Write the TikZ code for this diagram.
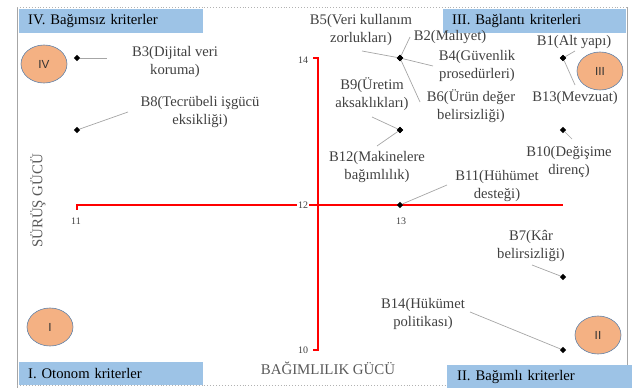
\documentclass[tikz,border=0pt]{standalone}
\usepackage{fontspec}
\setmainfont{Liberation Serif}
\newfontfamily\markfont{Liberation Sans}
\usetikzlibrary{shapes.geometric,positioning}
\definecolor{quadblue}{HTML}{9DC3E6}
\definecolor{quadorange}{HTML}{F4B183}
\definecolor{quadedge}{HTML}{5B7FA8}
\definecolor{labelgray}{HTML}{404040}
\definecolor{titlegray}{HTML}{595959}
\definecolor{leadgray}{HTML}{A6A6A6}

\begin{document}
\begin{tikzpicture}[x=0.03cm, y=-0.03cm,
    crit/.style={diamond, fill=black, inner sep=0pt, minimum size=5.5pt},
    critlbl/.style={align=center, text=labelgray, inner sep=0pt, font=\fontsize{12.5}{15.3}\selectfont},
    leader/.style={draw=leadgray, line width=0.6pt},
    axisline/.style={draw=red, line width=1.4pt},
    ticklbl/.style={text=labelgray, inner sep=0pt, font=\fontsize{8.5}{10}\selectfont},
    quadbox/.style={fill=quadblue, anchor=north west, minimum height=0.72cm, inner xsep=0.27cm, inner ysep=0pt, align=left, font=\fontsize{12.5}{14}\selectfont},
    quadmark/.style={ellipse, fill=quadorange, draw=quadedge, line width=0.5pt, minimum width=1.38cm, minimum height=1.14cm, inner sep=0pt, text=black!80, font=\markfont\fontsize{10}{12}\selectfont},
    axistitle/.style={text=titlegray, inner sep=0pt, font=\fontsize{12.7}{14}\selectfont}
]
\useasboundingbox (0,0) rectangle (632,388);
% Frame
\draw[gray!70, line width=0.5pt] (17,7) -- (17,388);
\draw[gray!70, line width=0.5pt] (627,7) -- (627,366);
\draw[gray!60, dotted, line width=0.5pt] (17,7) -- (627,7);
\draw[gray!60, dotted, line width=0.5pt] (17,385) -- (447,385);
% Quadrant boxes
\node[quadbox, text width=4.98cm] (q4) at (19,9) {IV. Bağımsız kriterler};
\node[quadbox, text width=4.95cm] (q3) at (443,9) {III. Bağlantı kriterleri};
\node[quadbox, text width=4.98cm, minimum height=0.69cm] (q1) at (19,362) {I. Otonom kriterler};
\node[quadbox, text width=4.95cm, minimum height=0.69cm, inner xsep=0.3cm] (q2) at (447,365) {II. Bağımlı kriterler};
% Quadrant marks
\node[quadmark] (m4) at (44,64) {IV};
\node[quadmark] (m3) at (600,71) {III};
\node[quadmark] (m1) at (50,327) {I};
\node[quadmark] (m2) at (598,335) {II};
% Axes
\coordinate (xl) at (77,205);
\coordinate (xr) at (563,205);
\coordinate (yt) at (318,58);
\coordinate (yb) at (318,350);
\draw[axisline] ([yshift=-4]xl) -- (xl) -- (xr);
\draw[axisline] ([xshift=-4]yt) -- (yt) -- (yb) -- ([xshift=-4]yb);
\node[ticklbl] (t14) at (303,60) {14};
\node[ticklbl, fill=white, inner sep=1pt] (t12) at (303,205) {12};
\node[ticklbl] (t10) at (303,350) {10};
\node[ticklbl] (t11) at (76,221) {11};
\node[ticklbl] (t13) at (401,221) {13};
\node[axistitle] (xtitle) at (328,368) {BAĞIMLILIK GÜCÜ};
\node[axistitle, rotate=90] (ytitle) at (38,201) {SÜRÜŞ GÜCÜ};
% Criteria points
\foreach \n/\x/\y in {b3/77/58, b8/77/130, b5/400/58, b2/400/58, b4/400/58, b6/400/58,
    b9/400/130, b12/400/130, b11/400/205, b1/563/58, b13/563/58, b10/563/130,
    b7/563/277, b14/563/350} {
    \node[crit] (\n) at (\x,\y) {};
}
% Criteria labels
\node[critlbl] (b3lbl) at (175,62) {B3(Dijital veri\\koruma)};
\node[critlbl] (b8lbl) at (200,112) {B8(Tecrübeli işgücü\\eksikliği)};
\node[critlbl] (b5lbl) at (361,30) {B5(Veri kullanım\\zorlukları)};
\node[critlbl] (b2lbl) at (450,37) {B2(Malıyet)};
\node[critlbl] (b4lbl) at (477,66) {B4(Güvenlik\\prosedürleri)};
\node[critlbl] (b6lbl) at (471,106) {B6(Ürün değer\\belirsizliği)};
\node[critlbl] (b9lbl) at (372,94) {B9(Üretim\\aksaklıkları)};
\node[critlbl] (b12lbl) at (377,167) {B12(Makinelere\\bağımlılık)};
\node[critlbl] (b11lbl) at (497,186) {B11(Hühümet\\desteği)};
\node[critlbl] (b1lbl) at (574,42) {B1(Alt yapı)};
\node[critlbl] (b13lbl) at (575,98) {B13(Mevzuat)};
\node[critlbl] (b10lbl) at (569,162) {B10(Değişime\\direnç)};
\node[critlbl] (b7lbl) at (531,246) {B7(Kâr\\belirsizliği)};
\node[critlbl] (b14lbl) at (423,314) {B14(Hükümet\\politikası)};
% Leader ends
\coordinate (b3end) at (107,58);
\coordinate (b8end) at (128,112);
\coordinate (b5end) at (362,51);
\coordinate (b2end) at (410,37);
\coordinate (b4end) at (433,66);
\coordinate (b6end) at (420,102);
\coordinate (b9end) at (372,117);
\coordinate (b12end) at (377,146);
\coordinate (b11end) at (447,185);
\coordinate (b1end) at (575,51);
\coordinate (b13end) at (575,85);
\coordinate (b10end) at (572,139);
\coordinate (b7end) at (532,265);
\coordinate (b14end) at (470,312);
\foreach \n in {b3,b8,b5,b2,b4,b6,b9,b12,b11,b1,b13,b10,b7,b14} {
    \draw[leader] (\n) -- (\n end);
}
\end{tikzpicture}
\end{document}
